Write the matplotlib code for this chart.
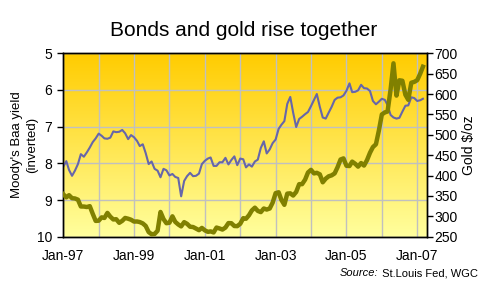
import numpy as np
import pandas as pd
import matplotlib
matplotlib.use('Agg')
import matplotlib.pyplot as plt
from matplotlib.colors import LinearSegmentedColormap

plt.rcParams['font.family'] = ['Liberation Sans', 'DejaVu Sans']

# monthly, Jan 1997 - Mar 2007
months = pd.date_range('1997-01-01', periods=123, freq='MS')

baa_yield = [
    8.09, 7.94, 8.18, 8.34, 8.20, 8.02, 7.75, 7.82, 7.70, 7.57, 7.42, 7.32,
    7.19, 7.25, 7.32, 7.33, 7.30, 7.13, 7.15, 7.14, 7.09, 7.18, 7.34, 7.23,
    7.29, 7.39, 7.53, 7.48, 7.72, 8.02, 7.95, 8.15, 8.20, 8.38, 8.15, 8.19,
    8.33, 8.29, 8.37, 8.40, 8.90, 8.48, 8.35, 8.26, 8.35, 8.34, 8.28, 8.02,
    7.93, 7.87, 7.84, 8.07, 8.07, 7.97, 7.97, 7.85, 8.03, 7.91, 7.81, 8.05,
    7.87, 7.89, 8.11, 8.03, 8.09, 7.95, 7.90, 7.58, 7.40, 7.73, 7.62, 7.45,
    7.35, 7.06, 6.95, 6.85, 6.38, 6.19, 6.62, 7.01, 6.79, 6.73, 6.66, 6.60,
    6.44, 6.27, 6.11, 6.46, 6.75, 6.78, 6.62, 6.46, 6.27, 6.21, 6.20, 6.15,
    6.02, 5.82, 6.06, 6.05, 6.01, 5.86, 5.95, 5.96, 6.03, 6.30, 6.39, 6.32,
    6.24, 6.27, 6.41, 6.68, 6.75, 6.78, 6.76, 6.59, 6.43, 6.42, 6.20, 6.22,
    6.30, 6.28, 6.24,
]

gold = [
    354.1, 346.6, 351.8, 344.5, 343.8, 340.8, 324.1, 324.0, 322.8, 324.9, 306.0, 288.7,
    289.3, 297.5, 295.9, 308.4, 299.1, 292.3, 292.9, 284.1, 288.9, 296.0, 294.1, 291.6,
    287.1, 287.3, 285.9, 282.6, 276.4, 261.3, 256.1, 256.7, 264.7, 310.7, 293.2, 283.1,
    284.3, 300.0, 286.4, 280.0, 275.3, 285.7, 281.6, 274.5, 273.7, 270.0, 266.0, 271.5,
    265.5, 261.9, 263.0, 260.5, 272.4, 270.2, 267.5, 272.4, 283.4, 283.1, 276.2, 275.9,
    281.7, 295.5, 294.0, 302.7, 314.5, 321.2, 313.3, 310.3, 319.2, 316.6, 319.2, 333.4,
    356.9, 359.0, 340.6, 328.2, 355.7, 356.4, 351.0, 359.8, 378.9, 378.9, 389.9, 407.6,
    414.0, 405.3, 406.7, 403.0, 383.5, 392.4, 398.1, 400.5, 405.3, 420.5, 439.4, 442.1,
    424.0, 423.4, 434.2, 428.9, 421.9, 430.7, 424.5, 437.9, 456.1, 469.9, 476.7, 510.1,
    549.9, 555.0, 557.1, 610.6, 675.4, 596.2, 633.8, 632.6, 598.2, 585.8, 627.8, 629.8,
    634.0, 650.0, 667.0,
]

yield_ticks = [5, 6, 7, 8, 9, 10]
gold_ticks = [250, 300, 350, 400, 450, 500, 550, 600, 650, 700]

fig = plt.figure(figsize=(4.87, 2.92), dpi=100)
ax = fig.add_axes([0.130, 0.1894, 0.746, 0.6281])

# background gradient
cmap = LinearSegmentedColormap.from_list('bg', ['#ffff9e', '#ffcc00'])
grad = np.linspace(0, 1, 256).reshape(-1, 1)
ax.imshow(grad, cmap=cmap, aspect='auto', origin='lower', extent=[0, 1, 0, 1],
          transform=ax.transAxes, zorder=0)

ax.plot(months, baa_yield, color='#6666aa', lw=1.5, zorder=3)
ax.set_ylim(10, 5)
ax.set_yticks(yield_ticks)
ax.set_xlim(pd.Timestamp('1997-01-01'), pd.Timestamp('2007-04-08'))

years = pd.date_range('1997-01-01', '2007-01-01', freq='YS')
ax.set_xticks(years)
ax.set_xticklabels([d.strftime('%b-%y') if i % 2 == 0 else '' for i, d in enumerate(years)])
ax.grid(True, color='#c0c0c0', lw=1, zorder=1)
ax.tick_params(axis='x', length=0, pad=9, labelsize=10)
ax.tick_params(axis='y', length=4, width=1, pad=4, labelsize=10)
ax.set_ylabel("Moody's Baa yield\n(inverted)", fontsize=9.5, linespacing=1.4)
ax.yaxis.set_label_coords(-0.068, 0.5)

ax2 = ax.twinx()
ax2.plot(months, gold, color='#808000', lw=3.2, zorder=4)
ax2.set_ylim(250, 700)
ax2.set_yticks(gold_ticks)
ax2.tick_params(axis='y', length=4, width=1, pad=1.5, labelsize=10)
ax2.set_ylabel('Gold $/oz', fontsize=10, labelpad=3)

for a in (ax, ax2):
    for s in a.spines.values():
        s.set_color('black')
        s.set_linewidth(1)

fig.text(0.5, 0.894, 'Bonds and gold rise together', ha='center', va='center', fontsize=15)

src = fig.text(0.981, 0.065, ' St.Louis Fed, WGC', ha='right', va='center', fontsize=8)
fig.canvas.draw()
bb = src.get_window_extent()
x0 = fig.transFigure.inverted().transform((bb.x0, bb.y0))[0]
fig.text(x0, 0.065, 'Source:', ha='right', va='center', fontsize=8, style='italic')

fig.savefig('out.png', dpi=100)
